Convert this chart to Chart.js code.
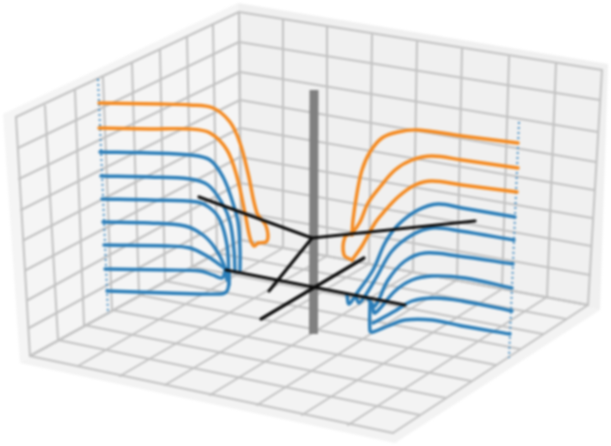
<!DOCTYPE html>
<html>
<head>
<meta charset="utf-8">
<title>Chart</title>
<style>
    html, body { margin: 0; padding: 0; background: #fff; }
    canvas { display: block; filter: blur(0.8px); }
</style>
<script src="https://cdn.jsdelivr.net/npm/chart.js@4"></script>
</head>
<body>
<canvas id="chart" width="611" height="446"></canvas>
<script>
// Panes
const paneLeft = [[3,114],[238,3],[241,240],[20,363]];
const paneRight = [[238,3],[608,64],[600,310],[241,240]];
const paneFloor = [[20,363],[241,240],[600,310],[395,443]];

// Grid ends
const leftTop = [[16,117],[45,106],[75,91],[103,77],[132,63],[160,50],[187,37],[213,25],[239,12]];
const leftBottom = [[30,356],[58,340],[84,325],[112,310],[139,295],[165,281],[192,267],[217,253],[241,240]];
const leftOuter = [[16,117],[18,148],[19,179],[21,210],[24,240],[26,270],[28,300],[29,328],[30,356]];
const centerEdge = [[239,12],[239,42],[240,72],[240,100],[240,128],[240,157],[240,183],[241,212],[241,240]];
const rightTop = [[239,12],[283,20],[327,27],[372,35],[417,42],[462,49],[509,57],[556,63],[602,70]];
const rightBottom = [[241,240],[283,248],[327,256],[369,264],[413,272],[457,280],[502,289],[547,297],[588,305]];
const rightOuter = [[602,70],[600,100],[598,132],[596,162],[594,190],[592,218],[591,246],[590,275],[588,305]];
const floorFront = [[30,356],[78,366],[120,376],[165,385],[210,395],[257,405],[302,415],[348,425],[393,433]];
const floorSide = [[393,433],[420,415],[446,398],[471,381],[496,365],[520,349],[543,334],[566,319],[588,305]];

// Left side curves
const leftOrange = [
    [[99,103],[160,104],[190,105],[213,108],[230,122],[240,143],[248,173],[257,213],[266,226],[267,241],[258,243]],
    [[99,128],[150,129],[190,129],[210,133],[227,150],[237,177],[245,213],[250,238],[254,246],[258,243]]
];
const leftBlue = [
    [[100,152],[150,153],[190,155],[210,160],[223,177],[232,200],[238,222],[240,250],[240,270]],
    [[101,176],[150,177],[190,179],[208,185],[222,203],[230,222],[234,250],[235,272]],
    [[102,199],[150,200],[197,202],[210,208],[220,220],[227,245],[229,275]],
    [[103,222],[150,223],[185,226],[203,235],[215,248],[224,265],[227,280]],
    [[104,245],[167,246],[190,248],[207,256],[220,265],[228,272],[229,285]],
    [[105,269],[167,270],[200,271],[213,275],[222,278],[226,269]],
    [[107,291],[167,293],[220,294],[227,291],[229,280],[228,268]]
];

// Right side curves
const rightOrange = [
    [[518,143],[462,136],[418,130],[398,132],[382,138],[370,152],[362,170],[357,193],[353,220],[352,235]],
    [[518,168],[462,160],[432,156],[412,160],[395,170],[380,187],[368,203],[360,222],[352,233],[345,237],[344,255],[352,260]],
    [[517,192],[462,185],[432,181],[415,185],[398,197],[383,213],[375,223],[362,246],[352,260]]
];
const rightBlue = [
    [[515,217],[462,208],[438,204],[418,210],[398,225],[385,243],[373,270],[357,293],[349,304],[347,295]],
    [[514,240],[460,231],[432,228],[412,235],[392,251],[376,278],[365,296],[359,303],[356,297]],
    [[513,264],[458,256],[425,253],[405,261],[388,280],[375,306],[369,300],[366,297]],
    [[512,288],[465,278],[432,276],[412,280],[395,291],[375,313],[372,305]],
    [[512,311],[462,301],[435,298],[412,301],[395,311],[373,323]],
    [[510,334],[462,326],[432,320],[405,320],[388,326],[373,332],[370,331],[370,303]]
];

// Straight marks
const dottedLeft = [[98,79],[108,314]];
const dottedRight = [[519,122],[509,358]];
const grayBar = [[314,90],[313.5,334]];
const blackUpper = [[199,197],[312,238],[475,221]];
const blackUpperArm = [[312,238],[269,291]];
const blackLower = [[226,270],[405,305]];
const blackLowerArm = [[261,319],[364,258]];

function toPoints(list) {
    return list.map(p => ({ x: p[0], y: p[1] }));
}

function lineSet(list, color, width, extra) {
    return Object.assign({
        data: toPoints(list),
        showLine: true,
        borderColor: color,
        borderWidth: width,
        pointRadius: 0,
        tension: 0,
        borderCapStyle: 'round',
        borderJoinStyle: 'round',
        fill: false
    }, extra || {});
}

function paneSet(list, color) {
    return lineSet(list.concat([list[0]]), color, 0, { backgroundColor: color, fill: 'shape' });
}

function gridSets(from, to) {
    return from.map((p, i) => lineSet([p, to[i]], '#c2c2c2', 2));
}

function drawChart() {
    const sets = [];
    sets.push(paneSet(paneLeft, '#f5f5f5'));
    sets.push(paneSet(paneRight, '#f0f0f0'));
    sets.push(paneSet(paneFloor, '#f3f3f3'));

    sets.push(...gridSets(leftTop, leftBottom));
    sets.push(...gridSets(leftOuter, centerEdge));
    sets.push(...gridSets(rightTop, rightBottom));
    sets.push(...gridSets(centerEdge, rightOuter));
    sets.push(...gridSets(leftBottom, floorSide));
    sets.push(...gridSets(rightBottom, floorFront));

    sets.push(lineSet(dottedLeft, '#4a90c4', 2, { borderDash: [2, 3], borderCapStyle: 'butt' }));
    sets.push(lineSet(dottedRight, '#4a90c4', 2, { borderDash: [2, 3], borderCapStyle: 'butt' }));
    sets.push(lineSet(grayBar, '#808080', 9, { borderCapStyle: 'butt' }));

    leftBlue.concat(rightBlue).forEach(c => sets.push(lineSet(c, '#2a7db8', 3.4, { tension: 0.35 })));
    leftOrange.concat(rightOrange).forEach(c => sets.push(lineSet(c, '#f58a20', 3.4, { tension: 0.35 })));

    [blackUpper, blackUpperArm, blackLower, blackLowerArm].forEach(c => sets.push(lineSet(c, '#0c0c0c', 3.2)));

    // Chart.js paints the first dataset last
    sets.reverse();

    new Chart(document.getElementById('chart').getContext('2d'), {
        type: 'scatter',
        data: { datasets: sets },
        options: {
            responsive: false,
            animation: false,
            layout: { padding: 0 },
            plugins: { legend: { display: false }, tooltip: { enabled: false } },
            scales: {
                x: { type: 'linear', min: 0, max: 611, display: false },
                y: { type: 'linear', min: 0, max: 446, reverse: true, display: false }
            }
        }
    });
}

document.addEventListener('DOMContentLoaded', drawChart);
</script>
</body>
</html>
